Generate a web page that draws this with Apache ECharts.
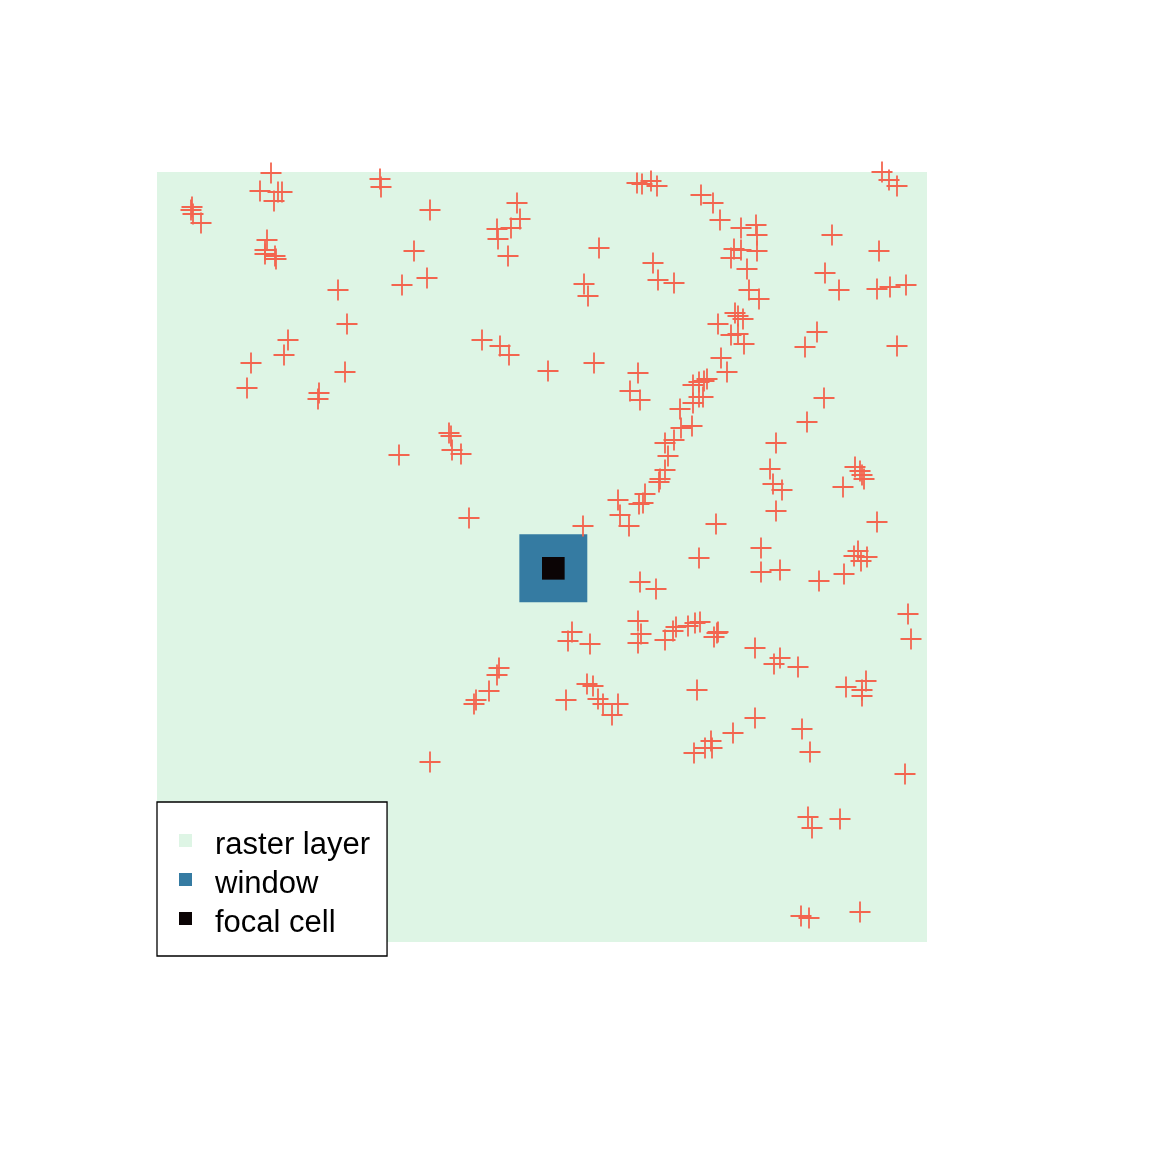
<!DOCTYPE html>
<html>
<head>
<meta charset="utf-8">
<script src="https://cdn.jsdelivr.net/npm/echarts@6/dist/echarts.min.js"></script>
<style>html,body{margin:0;padding:0;background:#fff}#c{width:1152px;height:1152px}</style>
</head>
<body>
<div id="c"></div>
<script>
// Raster: 34 x 34 cells, extent 0..770 map units
const rasterExtent = [0, 0, 770, 770];
const nCells = 34;
const windowCells = [16, 15, 19, 18];   // [col0, row0, col1, row1]
const focalCells = [17, 16, 18, 17];
const layerNames = ['raster layer', 'window', 'focal cell'];
const layerColors = ['#DEF5E5', '#357BA2', '#0B0405'];

// point locations (map units)
const pointX = [114,103,121,125,117,223,224,35,34,36,44,110,108,108,118,119,181,245,190,131,127,94,90,188,162,161,
  273,257,270,360,363,340,354,341,351,442,427,431,496,501,480,485,494,500,325,343,352,391,437,481,473,483,
  725,732,740,544,556,563,584,599,600,577,584,600,574,590,517,592,602,675,722,668,682,720,733,749,578,581,586,561,574,581,587,660,648,740,564,570,667,
  550,547,542,536,546,542,536,523,535,524,517,508,511,508,503,502,488,486,482,461,463,472,
  292,294,295,304,312,426,483,499,242,
  650,619,613,616,625,619,559,542,604,604,623,662,687,686,698,703,705,707,720,701,697,704,710,751,
  481,484,481,508,415,411,433,342,340,332,319,317,409,430,436,441,446,461,455,273,
  516,519,531,538,543,557,560,561,598,623,617,641,540,598,576,554,555,548,537,645,653,689,709,705,705,754,748,
  651,655,683,644,652,703];
const pointY = [769,751,750,750,741,763,755,735,732,728,719,702,692,688,686,683,652,657,618,602,587,579,554,570,549,543,
  732,691,664,739,723,713,714,703,686,694,658,646,679,662,759,758,761,756,602,596,587,571,579,569,551,542,
  770,762,756,747,739,722,714,717,707,693,692,691,684,673,659,652,643,707,691,669,652,653,655,657,629,626,623,618,607,608,598,610,595,596,584,570,544,
  563,561,560,557,545,545,539,533,516,514,502,499,486,472,463,460,448,439,438,442,427,416,
  509,506,492,488,424,416,360,353,487,
  520,499,473,458,452,431,418,384,394,370,372,361,368,455,475,471,467,463,420,391,386,381,385,328,
  321,308,299,302,310,301,298,274,267,251,242,238,242,258,256,243,238,238,227,180,
  311,315,316,319,320,305,309,310,294,284,278,275,252,224,209,201,194,194,189,213,190,255,261,252,246,303,168,
  125,114,123,26,24,30];

const cell = (rasterExtent[2] - rasterExtent[0]) / nCells;
const points = pointX.map((x, i) => [x, pointY[i]]);
const toExtent = c => [c[0] * cell, c[1] * cell, c[2] * cell, c[3] * cell];

function rectItem(params, api) {
  const p0 = api.coord([api.value(0), api.value(1)]);
  const p1 = api.coord([api.value(2), api.value(3)]);
  return {
    type: 'rect',
    shape: { x: p0[0], y: p1[1], width: p1[0] - p0[0], height: p0[1] - p1[1] },
    style: { fill: api.visual('color') }
  };
}
const layerData = [[rasterExtent], [toExtent(windowCells)], [toExtent(focalCells)]];
const legendFont = '"Liberation Sans", Arial, sans-serif';

const chart = echarts.init(document.getElementById('c'), null, { renderer: 'canvas' });
chart.setOption({
  animation: false,
  backgroundColor: '#ffffff',
  grid: { left: 157, top: 172, width: 770, height: 770 },
  xAxis: { type: 'value', min: rasterExtent[0], max: rasterExtent[2], show: false },
  yAxis: { type: 'value', min: rasterExtent[1], max: rasterExtent[3], show: false },
  legend: {
    orient: 'vertical', left: 157, top: 802,
    padding: [18.5, 17, 17.5, 22],
    itemWidth: 13, itemHeight: 13, itemGap: -1,
    icon: 'rect',
    backgroundColor: '#ffffff', borderColor: '#000000', borderWidth: 1.3, borderRadius: 0,
    selectedMode: false,
    formatter: '{t|{name}}',
    textStyle: {
      fontSize: 31, fontFamily: legendFont, color: '#000',
      rich: { t: { fontSize: 31, fontFamily: legendFont, color: '#000', lineHeight: 30, padding: [9, 0, 0, 18] } }
    },
    data: layerNames
  },
  series: layerNames.map((name, i) => ({
    name: name,
    type: 'custom',
    renderItem: rectItem,
    silent: true,
    z: 1 + i,
    itemStyle: { color: layerColors[i] },
    dimensions: ['x0', 'y0', 'x1', 'y1'],
    encode: { x: [0, 2], y: [1, 3] },
    data: layerData[i]
  })).concat([{
    name: 'points',
    type: 'scatter',
    z: 10,
    silent: true,
    symbol: 'path://M9.15 0H10.85V20H9.15Z M0 9.15H20V10.85H0Z',
    symbolSize: 21,
    itemStyle: { color: '#F3654F', opacity: 1 },
    data: points
  }])
});
</script>
</body>
</html>
